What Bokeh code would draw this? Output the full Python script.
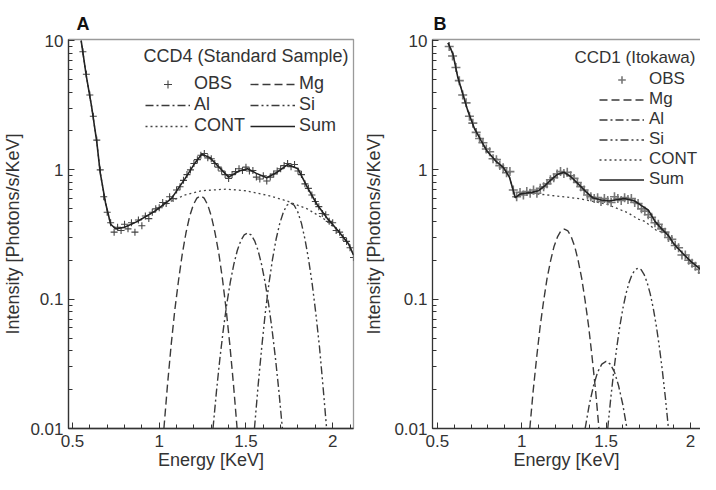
from bokeh.plotting import figure
from bokeh.models import (Range1d, LinearAxis, SingleIntervalTicker, LogTicker, FixedTicker,
                          CustomJSTickFormatter, Legend, LegendItem, Label)
from bokeh.layouts import row
from bokeh.embed import file_html
from bokeh.resources import INLINE

# ---------------- Panel A : CCD4 (Standard Sample) ----------------
a_obs_x = [0.56, 0.58, 0.60, 0.62, 0.64, 0.66, 0.68, 0.70, 0.72, 0.74, 0.76, 0.78, 0.80, 0.82, 0.84,
           0.86, 0.88, 0.90, 0.92, 0.94, 0.96, 0.98, 1.00, 1.02, 1.04, 1.06, 1.08, 1.10, 1.12, 1.14,
           1.16, 1.18, 1.20, 1.22, 1.24, 1.26, 1.28, 1.30, 1.32, 1.34, 1.36, 1.38, 1.40, 1.42, 1.44,
           1.46, 1.48, 1.50, 1.52, 1.54, 1.56, 1.58, 1.60, 1.62, 1.64, 1.66, 1.68, 1.70, 1.72, 1.74,
           1.76, 1.78, 1.80, 1.82, 1.84, 1.86, 1.88, 1.90, 1.92, 1.94, 1.96, 1.98, 2.00, 2.02, 2.04,
           2.06, 2.08, 2.10, 2.12]
a_obs_y = [8.2, 5.5, 3.8, 2.6, 1.7, 1.0, 0.62, 0.47, 0.39, 0.33, 0.36, 0.34, 0.38, 0.35, 0.39,
           0.33, 0.41, 0.37, 0.44, 0.42, 0.47, 0.50, 0.51, 0.56, 0.55, 0.62, 0.60, 0.70, 0.74, 0.83,
           0.92, 1.00, 1.12, 1.20, 1.30, 1.34, 1.24, 1.22, 1.12, 1.05, 0.98, 0.92, 0.86, 0.92, 0.97,
           1.02, 0.99, 1.05, 0.98, 0.99, 0.88, 0.85, 0.90, 0.82, 0.88, 0.93, 0.98, 1.02, 1.08, 1.12,
           1.06, 1.10, 0.98, 0.92, 0.78, 0.72, 0.64, 0.57, 0.52, 0.46, 0.45, 0.40, 0.39, 0.34, 0.33,
           0.30, 0.28, 0.25, 0.21]

a_sum_x = [0.55, 0.58, 0.61, 0.64, 0.66, 0.69, 0.72, 0.75, 0.80, 0.875, 0.975, 1.07, 1.15, 1.20,
           1.245, 1.29, 1.33, 1.40, 1.46, 1.51, 1.56, 1.62, 1.68, 1.74, 1.80, 1.855, 1.91, 1.97,
           2.03, 2.09, 2.12]
a_sum_y = [10.0, 5.3, 3.1, 1.65, 0.95, 0.56, 0.38, 0.35, 0.36, 0.40, 0.48, 0.60, 0.86, 1.10,
           1.32, 1.25, 1.10, 0.88, 0.98, 1.02, 0.94, 0.87, 0.96, 1.10, 1.02, 0.73, 0.54, 0.42,
           0.34, 0.27, 0.22]

a_cont_x = [0.55, 0.58, 0.61, 0.64, 0.66, 0.69, 0.72, 0.75, 0.80, 0.875, 0.975, 1.07, 1.15, 1.244,
            1.385, 1.50, 1.637, 1.736, 1.853, 1.947, 2.03, 2.09, 2.12]
a_cont_y = [10.0, 5.3, 3.1, 1.65, 0.95, 0.56, 0.38, 0.35, 0.36, 0.40, 0.48, 0.575, 0.64, 0.69,
            0.71, 0.69, 0.63, 0.575, 0.50, 0.42, 0.34, 0.27, 0.22]

a_mg_x = [1.027, 1.048, 1.069, 1.090, 1.112, 1.133, 1.154, 1.175, 1.196, 1.217, 1.238,
          1.259, 1.280, 1.301, 1.322, 1.344, 1.365, 1.386, 1.407, 1.428, 1.449]
a_mg_y = [0.010, 0.0220, 0.0445, 0.0828, 0.142, 0.224, 0.325, 0.435, 0.535, 0.605, 0.631,
          0.605, 0.535, 0.435, 0.325, 0.224, 0.142, 0.0828, 0.0445, 0.0220, 0.010]

a_al_x = [1.31, 1.33, 1.35, 1.37, 1.39, 1.41, 1.43, 1.45, 1.47, 1.49, 1.51,
          1.53, 1.55, 1.57, 1.59, 1.61, 1.63, 1.65, 1.67, 1.69, 1.71]
a_al_y = [0.010, 0.0194, 0.0350, 0.0590, 0.0929, 0.136, 0.186, 0.238, 0.283, 0.314, 0.325,
          0.314, 0.283, 0.238, 0.186, 0.136, 0.0929, 0.0590, 0.0350, 0.0194, 0.010]

a_si_x = [1.549, 1.570, 1.591, 1.611, 1.632, 1.653, 1.674, 1.695, 1.716, 1.736, 1.757,
          1.778, 1.799, 1.820, 1.840, 1.861, 1.882, 1.903, 1.924, 1.944, 1.965]
a_si_y = [0.010, 0.0214, 0.0425, 0.0774, 0.131, 0.203, 0.292, 0.386, 0.472, 0.533, 0.555,
          0.533, 0.472, 0.386, 0.292, 0.203, 0.131, 0.0774, 0.0425, 0.0214, 0.010]

# ---------------- Panel B : CCD1 (Itokawa) ----------------
b_obs_x = [0.57, 0.59, 0.61, 0.63, 0.65, 0.67, 0.69, 0.71, 0.73, 0.75, 0.77, 0.79, 0.81, 0.83,
           0.85, 0.87, 0.89, 0.91, 0.93, 0.95, 0.97, 0.99, 1.01, 1.03, 1.05, 1.07, 1.09, 1.11,
           1.13, 1.15, 1.17, 1.19, 1.21, 1.23, 1.25, 1.27, 1.29, 1.31, 1.33, 1.35, 1.37, 1.39,
           1.41, 1.43, 1.45, 1.47, 1.49, 1.51, 1.53, 1.55, 1.57, 1.59, 1.61, 1.63, 1.65, 1.67,
           1.69, 1.71, 1.73, 1.75, 1.77, 1.79, 1.81, 1.83, 1.85, 1.87, 1.89, 1.91, 1.93, 1.95,
           1.97, 1.99, 2.01, 2.03, 2.05, 2.07, 2.09]
b_obs_y = [9.0, 7.6, 6.2, 4.9, 3.8, 3.3, 2.6, 2.3, 1.95, 1.75, 1.62, 1.45, 1.38, 1.22,
           1.20, 1.08, 1.04, 0.95, 0.97, 0.70, 0.62, 0.67, 0.64, 0.68, 0.66, 0.70, 0.66, 0.72,
           0.74, 0.78, 0.84, 0.87, 0.93, 0.97, 0.94, 0.96, 0.90, 0.86, 0.80, 0.74, 0.70, 0.64,
           0.62, 0.60, 0.61, 0.57, 0.60, 0.58, 0.56, 0.62, 0.60, 0.58, 0.61, 0.59, 0.60, 0.56,
           0.55, 0.50, 0.48, 0.45, 0.43, 0.39, 0.38, 0.35, 0.33, 0.30, 0.29, 0.26, 0.25, 0.22,
           0.22, 0.20, 0.19, 0.18, 0.17, 0.16, 0.155]

b_sum_x = [0.563, 0.592, 0.621, 0.650, 0.679, 0.719, 0.760, 0.794, 0.846, 0.892, 0.927, 0.962,
           0.99, 1.02, 1.06, 1.10, 1.14, 1.17, 1.21, 1.25, 1.29, 1.33, 1.38, 1.42, 1.47, 1.52,
           1.57, 1.61, 1.67, 1.71, 1.75, 1.79, 1.83, 1.87, 1.90, 1.95, 2.00, 2.05, 2.09, 2.11]
b_sum_y = [9.6, 7.9, 5.2, 3.9, 2.9, 2.1, 1.68, 1.40, 1.17, 1.04, 0.88, 0.61,
           0.65, 0.66, 0.67, 0.69, 0.76, 0.83, 0.92, 0.96, 0.89, 0.79, 0.68, 0.61, 0.585, 0.575,
           0.59, 0.60, 0.575, 0.53, 0.49, 0.40, 0.35, 0.31, 0.27, 0.23, 0.197, 0.175, 0.156, 0.150]

b_cont_x = [0.563, 0.592, 0.621, 0.650, 0.679, 0.719, 0.760, 0.794, 0.846, 0.892, 0.927, 0.962,
            0.99, 1.02, 1.06, 1.10, 1.20, 1.34, 1.50, 1.556, 1.631, 1.689, 1.729, 1.804, 1.85,
            1.90, 1.95, 2.00, 2.05, 2.09, 2.11]
b_cont_y = [9.6, 7.9, 5.2, 3.9, 2.9, 2.1, 1.68, 1.40, 1.17, 1.04, 0.88, 0.61,
            0.65, 0.66, 0.655, 0.65, 0.63, 0.60, 0.545, 0.51, 0.465, 0.417, 0.40, 0.336, 0.33,
            0.27, 0.23, 0.197, 0.175, 0.156, 0.150]

b_mg_x = [1.048, 1.068, 1.089, 1.109, 1.130, 1.150, 1.171, 1.191, 1.212, 1.232, 1.253,
          1.274, 1.294, 1.315, 1.335, 1.356, 1.376, 1.397, 1.417, 1.438, 1.458]
b_mg_y = [0.010, 0.0196, 0.0359, 0.0612, 0.0973, 0.144, 0.198, 0.254, 0.303, 0.337, 0.349,
          0.337, 0.303, 0.254, 0.198, 0.144, 0.0973, 0.0612, 0.0359, 0.0196, 0.010]

b_al_x = [1.376, 1.401, 1.426, 1.450, 1.475, 1.500, 1.525, 1.550, 1.574, 1.599, 1.624]
b_al_y = [0.010, 0.0154, 0.0215, 0.0273, 0.0315, 0.0330, 0.0315, 0.0273, 0.0215, 0.0154, 0.010]

b_si_x = [1.510, 1.528, 1.546, 1.564, 1.582, 1.600, 1.618, 1.636, 1.654, 1.672, 1.690,
          1.708, 1.726, 1.744, 1.762, 1.780, 1.798, 1.816, 1.834, 1.852, 1.870]
b_si_y = [0.010, 0.0172, 0.0279, 0.0429, 0.0622, 0.0851, 0.110, 0.134, 0.155, 0.169, 0.174,
          0.169, 0.155, 0.134, 0.110, 0.0851, 0.0622, 0.0429, 0.0279, 0.0172, 0.010]

x_ticks_interval = 0.5
FONT = "Liberation Sans"
TXT = "#333333"

DASH_MG = "8 4"
DASH_AL = "8 3 2 3"
DASH_SI = "8 3 2 3 2 3"
DASH_CONT = "2 3"

H = 474
TOP = 39
FRAME_H = 389


def make_panel(letter, width, xr, border_left, border_right, title_label_standoff,
               tick_label_standoff):
    p = figure(width=width, height=H, x_range=Range1d(*xr), y_range=Range1d(0.01, 10.2),
               y_axis_type="log", output_backend="svg", toolbar_location=None,
               min_border_left=border_left, min_border_right=border_right,
               min_border_top=TOP, min_border_bottom=H - TOP - FRAME_H,
               title=letter)
    p.title.text_font = FONT
    p.title.text_font_size = "18px"
    p.title.text_font_style = "bold"
    p.title.text_color = "#111111"
    p.title.align = "left"
    p.title.standoff = 12
    p.grid.visible = False
    p.background_fill_color = "white"
    p.border_fill_color = "white"
    p.outline_line_width = 1.3

    p.xaxis.ticker = SingleIntervalTicker(interval=x_ticks_interval, num_minor_ticks=5)
    p.yaxis.ticker = LogTicker(num_minor_ticks=10)
    p.yaxis.formatter = CustomJSTickFormatter(
        code="return tick >= 1 ? tick.toFixed(0) : tick.toPrecision(1);")
    for ax in (p.xaxis, p.yaxis):
        ax.axis_line_color = "#333333"
        ax.axis_line_width = 1.3
        ax.major_tick_line_color = "#333333"
        ax.minor_tick_line_color = "#333333"
        ax.major_tick_in = 6
        ax.major_tick_out = 0
        ax.minor_tick_in = 4
        ax.minor_tick_out = 0
        ax.major_label_text_font = FONT
        ax.major_label_text_font_size = "17px"
        ax.major_label_text_color = TXT
        ax.axis_label_text_font = FONT
        ax.axis_label_text_font_size = "18px"
        ax.axis_label_text_font_style = "normal"
        ax.axis_label_text_color = TXT
    p.xaxis.axis_label = "Energy [KeV]"
    p.yaxis.axis_label = "Intensity [Photons/s/KeV]"
    p.xaxis.major_label_standoff = 6
    p.xaxis.axis_label_standoff = 0
    p.yaxis.major_label_standoff = tick_label_standoff
    p.yaxis.axis_label_standoff = title_label_standoff
    return p


def draw(p, obs_x, obs_y, sum_x, sum_y, cont_x, cont_y, mg_x, mg_y, al_x, al_y, si_x, si_y,
         obs_color, obs_size, obs_width):
    r_cont = p.line(cont_x, cont_y, line_color="#444444", line_width=1.3, line_dash=DASH_CONT)
    r_mg = p.line(mg_x, mg_y, line_color="#3a3a3a", line_width=1.4, line_dash=DASH_MG)
    r_al = p.line(al_x, al_y, line_color="#3a3a3a", line_width=1.4, line_dash=DASH_AL)
    r_si = p.line(si_x, si_y, line_color="#3a3a3a", line_width=1.4, line_dash=DASH_SI)
    r_obs = p.scatter(obs_x, obs_y, marker="cross", size=obs_size, line_color=obs_color,
                      line_width=obs_width)
    r_sum = p.line(sum_x, sum_y, line_color="#222222", line_width=1.6)
    return dict(OBS=r_obs, Mg=r_mg, Al=r_al, Si=r_si, CONT=r_cont, Sum=r_sum)


# Panel A: figure spans x 0..360, frame ~68..353
pa = make_panel("A", 360, (0.477, 2.12), 68, 7, 4, 5)
pa.outline_line_color = "#9a9a9a"
pa.title.offset = 8
ra = draw(pa, a_obs_x, a_obs_y, a_sum_x, a_sum_y, a_cont_x, a_cont_y, a_mg_x, a_mg_y,
          a_al_x, a_al_y, a_si_x, a_si_y, "#444444", 7, 1.1)

# Panel B: figure spans x 360..700, frame 432..700 (right side open, top line only)
pb = make_panel("B", 340, (0.471, 2.06), 72, 0, 7, 5)
pb.outline_line_color = None
pb.title.offset = 1
top_line = LinearAxis(ticker=FixedTicker(ticks=[]), axis_line_color="#9a9a9a",
                      axis_line_width=1.3, major_tick_in=0, major_tick_out=0,
                      minor_tick_in=0, minor_tick_out=0, major_label_text_font_size="0px")
pb.add_layout(top_line, "above")
rb = draw(pb, b_obs_x, b_obs_y, b_sum_x, b_sum_y, b_cont_x, b_cont_y, b_mg_x, b_mg_y,
          b_al_x, b_al_y, b_si_x, b_si_y, "#777777", 9, 1.6)

order = ["OBS", "Mg", "Al", "Si", "CONT", "Sum"]

leg_a = Legend(items=[LegendItem(label=k, renderers=[ra[k]]) for k in order],
               orientation="horizontal", ncols=2, location=(77, 292),
               glyph_width=45, glyph_height=20, label_height=20, label_standoff=4,
               label_width=56, spacing=-1, padding=0, margin=0, border_line_color=None,
               background_fill_alpha=0, label_text_font=FONT, label_text_font_size="18px",
               label_text_color=TXT)
pa.add_layout(leg_a, "center")
pa.add_layout(Label(x=75, y=373, x_units="screen", y_units="screen",
                    text="CCD4 (Standard Sample)", text_font=FONT, text_font_size="18px",
                    text_color=TXT, text_baseline="middle"))

leg_b = Legend(items=[LegendItem(label=k, renderers=[rb[k]]) for k in order],
               orientation="vertical", location=(167, 239),
               glyph_width=45, glyph_height=19, label_height=19, label_standoff=5,
               spacing=0, padding=0, margin=0, border_line_color=None,
               background_fill_alpha=0, label_text_font=FONT, label_text_font_size="17px",
               label_text_color=TXT)
pb.add_layout(leg_b, "center")
pb.add_layout(Label(x=142, y=371, x_units="screen", y_units="screen",
                    text="CCD1 (Itokawa)", text_font=FONT, text_font_size="17px",
                    text_color=TXT, text_baseline="middle"))

layout = row(pa, pb)
open("out.html", "w").write(file_html(layout, INLINE))
